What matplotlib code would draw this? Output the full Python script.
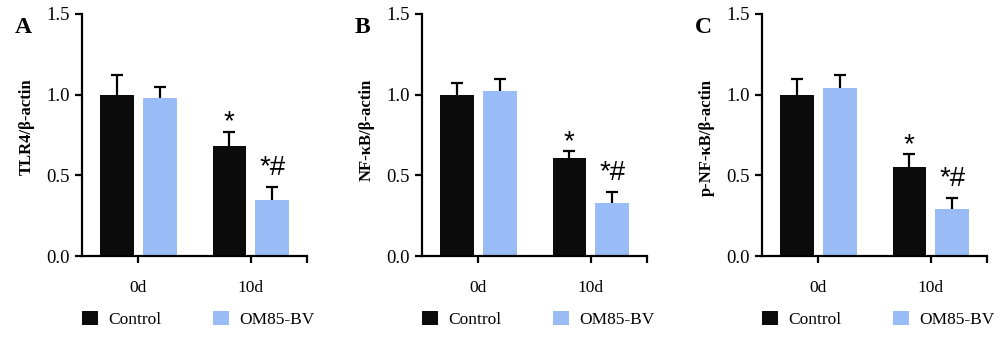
import matplotlib
matplotlib.use("Agg")
import matplotlib.pyplot as plt
import numpy as np

plt.rcParams['font.family'] = ['Liberation Serif', 'DejaVu Serif']

days = ["0d", "10d"]
groups = ["Control", "OM85-BV"]
panel_letters = ["A", "B", "C"]
ylabels = ["TLR4/β-actin", "NF-κB/β-actin", "p-NF-κB/β-actin"]

# mean and upper SEM for each panel, per day
control_mean = [[1.00, 0.68], [1.00, 0.61], [1.00, 0.55]]
control_err = [[0.12, 0.09], [0.07, 0.04], [0.10, 0.08]]
om85_mean = [[0.98, 0.35], [1.02, 0.33], [1.04, 0.29]]
om85_err = [[0.065, 0.08], [0.08, 0.07], [0.08, 0.07]]
control_marks = [["", "*"], ["", "*"], ["", "*"]]
om85_marks = [["", "*#"], ["", "*#"], ["", "*#"]]

colors = ["#0b0b0b", "#99bcf6"]
lefts = [0.082, 0.422, 0.762]
label_y = [0.535, 0.52, 0.49]
# baseline offset above the error cap for each significance mark
mark_offset = {"*": 0.015, "*#": 0.072}

fig = plt.figure(figsize=(10, 3.41), dpi=100)

for i in range(3):
    ax = fig.add_axes([lefts[i], 0.249, 0.225, 0.710])
    x = np.arange(len(days))
    off = 0.19
    w = 0.30
    series = [(control_mean[i], control_err[i], control_marks[i]),
              (om85_mean[i], om85_err[i], om85_marks[i])]
    for j, (mean, err, marks) in enumerate(series):
        xs = x + (j * 2 - 1) * off
        top = np.array(mean) + np.array(err)
        ax.bar(xs, mean, width=w, color=colors[j], label=groups[j], zorder=2)
        # upper-only error bars with a cap
        ax.vlines(xs, mean, top, color='black', linewidth=1.6, zorder=1)
        ax.plot(xs, top, linestyle='none', marker='_', markersize=9,
                markeredgewidth=1.6, color='black', zorder=1)
        for k in range(len(days)):
            if marks[k]:
                ax.text(xs[k], top[k] + mark_offset[marks[k]], marks[k], ha='center',
                        va='baseline', fontsize=20, family=['Liberation Sans', 'DejaVu Sans'])

    ax.set_xlim(-0.5, 1.5)
    ax.set_ylim(0, 1.5)
    ax.set_xticks(x)
    ax.set_xticklabels(days, fontsize=12.5)
    ax.set_xticks([1.5], minor=True)
    ax.set_yticks([0, 0.5, 1.0, 1.5])
    ax.set_yticklabels(["0.0", "0.5", "1.0", "1.5"], fontsize=13.5)
    ax.tick_params(axis='x', which='both', length=5, width=1.6, pad=12, direction='out')
    ax.tick_params(axis='y', length=5, width=1.6, pad=4)
    for s in ['top', 'right']:
        ax.spines[s].set_visible(False)
    for s in ['left', 'bottom']:
        ax.spines[s].set_linewidth(1.6)

    ax.set_ylabel(ylabels[i], fontsize=12, fontweight='bold')
    ax.yaxis.set_label_coords(-0.21, label_y[i])
    ax.text(-0.30, 0.92, panel_letters[i], transform=ax.transAxes, fontsize=17,
            fontweight='bold', ha='left', va='baseline')

    ax.legend(loc='upper left', bbox_to_anchor=(0.0, -0.225), ncol=2, frameon=False,
              fontsize=12.5, handlelength=0.9, handleheight=0.9, handletextpad=0.6,
              columnspacing=3.0, borderpad=0, borderaxespad=0)

fig.savefig("out.png", dpi=100)
